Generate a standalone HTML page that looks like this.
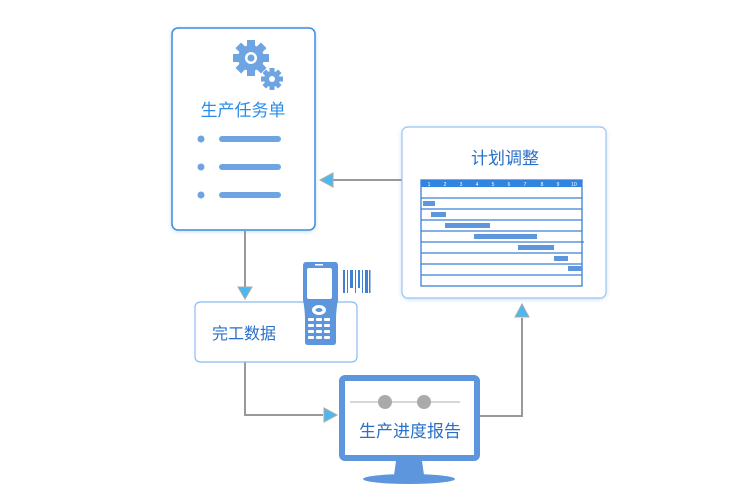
<!DOCTYPE html>
<html><head><meta charset="utf-8"><style>
html,body{margin:0;padding:0;background:#fff;}
svg{display:block;}
text{font-family:"Liberation Sans","Noto Sans CJK SC",sans-serif;}
</style></head><body>
<svg width="740" height="500" viewBox="0 0 740 500" xmlns="http://www.w3.org/2000/svg">
<defs>
<filter id="sh" x="-10%" y="-10%" width="120%" height="120%"><feDropShadow dx="0" dy="1" stdDeviation="2" flood-color="#6aa0e0" flood-opacity="0.35"/></filter>
</defs>
<!-- connectors -->
<g stroke="#999" stroke-width="2" fill="none">
<line x1="408" y1="180" x2="332" y2="180"/>
<line x1="245" y1="231" x2="245" y2="289"/>
<polyline points="245,362 245,415 323,415"/>
<polyline points="471,416 522,416 522,318"/>
</g>
<g fill="#4cb8f0" stroke="#aaa" stroke-width="1">
<polygon points="320,180 333,173 333,187"/>
<polygon points="245,299 238,287 252,287"/>
<polygon points="337,415 324,408 324,422"/>
<polygon points="522,304 515,317 529,317"/>
</g>
<!-- task card -->
<rect x="172" y="28" width="143" height="202" rx="6" fill="#fff" stroke="#3b8be0" stroke-width="1.5" filter="url(#sh)"/>
<g fill="#6fa4e3">
<g transform="translate(251,58)">
<circle r="13"/>
<g><rect x="-4" y="-18" width="8" height="36"/><rect x="-4" y="-18" width="8" height="36" transform="rotate(45)"/><rect x="-4" y="-18" width="8" height="36" transform="rotate(90)"/><rect x="-4" y="-18" width="8" height="36" transform="rotate(135)"/></g>
<circle r="6" fill="#fff"/><circle r="3.5"/>
</g>
<g transform="translate(272,79)">
<circle r="8"/>
<g><rect x="-2.5" y="-11" width="5" height="22"/><rect x="-2.5" y="-11" width="5" height="22" transform="rotate(45)"/><rect x="-2.5" y="-11" width="5" height="22" transform="rotate(90)"/><rect x="-2.5" y="-11" width="5" height="22" transform="rotate(135)"/></g>
<circle r="3" fill="#fff"/>
</g>
<circle cx="201" cy="139" r="3.5"/><rect x="219" y="136" width="62" height="6" rx="3"/>
<circle cx="201" cy="167" r="3.5"/><rect x="219" y="164" width="62" height="6" rx="3"/>
<circle cx="201" cy="195" r="3.5"/><rect x="219" y="192" width="62" height="6" rx="3"/>
</g>
<text x="243" y="116" font-size="17" fill="#2a8ee8" text-anchor="middle">生产任务单</text>
<!-- plan box -->
<rect x="402" y="127" width="204" height="171" rx="6" fill="#fff" stroke="#9cc4f2" stroke-width="1.2" filter="url(#sh)"/>
<text x="505" y="164" font-size="17" fill="#2a6fc9" text-anchor="middle">计划调整</text>
<rect x="421" y="180" width="161" height="7" fill="#2f86e0"/>
<g font-size="5" fill="#fff" text-anchor="middle">
<text x="429" y="186">1</text><text x="445" y="186">2</text><text x="461" y="186">3</text><text x="477" y="186">4</text><text x="493" y="186">5</text><text x="509" y="186">6</text><text x="525" y="186">7</text><text x="542" y="186">8</text><text x="558" y="186">9</text><text x="574" y="186">10</text>
</g>
<g stroke="#3b80d6" stroke-width="1.3" fill="none">
<rect x="421" y="180" width="161" height="106"/>
<line x1="421" y1="198" x2="582" y2="198"/><line x1="421" y1="209" x2="582" y2="209"/><line x1="421" y1="220" x2="582" y2="220"/><line x1="421" y1="231" x2="582" y2="231"/><line x1="421" y1="242" x2="584" y2="242"/><line x1="421" y1="253" x2="582" y2="253"/><line x1="421" y1="264" x2="582" y2="264"/><line x1="421" y1="275" x2="582" y2="275"/>
</g>
<g fill="#5d96dc">
<rect x="423" y="201" width="12" height="5"/><rect x="431" y="212" width="15" height="5"/><rect x="445" y="223" width="45" height="5"/><rect x="474" y="234" width="63" height="5"/><rect x="518" y="245" width="36" height="5"/><rect x="554" y="256" width="14" height="5"/><rect x="568" y="266" width="14" height="5"/>
</g>
<!-- completion box -->
<rect x="195" y="302" width="162" height="60" rx="5" fill="#fff" stroke="#8bbcf0" stroke-width="1.2"/>
<text x="212" y="339" font-size="16" fill="#2a6fc9">完工数据</text>
<!-- scanner -->
<g fill="#5d96dc">
<path d="M303,262 h32 q3,0 3,4 v34 q-2,10 -2,20 v22 q0,3 -3,3 h-25 q-3,0 -3,-3 v-22 q0,-10 -2,-20 v-34 q0,-4 3,-4z"/>
</g>
<rect x="307" y="268" width="25" height="31" rx="2" fill="#fff"/>
<rect x="315" y="264" width="8" height="1.5" fill="#fff"/>
<ellipse cx="319" cy="310" rx="7" ry="5" fill="#fff"/><ellipse cx="319" cy="310" rx="3.5" ry="2" fill="#5d96dc"/>
<g fill="#fff">
<rect x="308" y="318" width="6" height="3" rx="1"/><rect x="316" y="318" width="6" height="3" rx="1"/><rect x="324" y="318" width="6" height="3" rx="1"/>
<rect x="308" y="324" width="6" height="3" rx="1"/><rect x="316" y="324" width="6" height="3" rx="1"/><rect x="324" y="324" width="6" height="3" rx="1"/>
<rect x="308" y="330" width="6" height="3" rx="1"/><rect x="316" y="330" width="6" height="3" rx="1"/><rect x="324" y="330" width="6" height="3" rx="1"/>
<rect x="308" y="336" width="6" height="3" rx="1"/><rect x="316" y="336" width="6" height="3" rx="1"/><rect x="324" y="336" width="6" height="3" rx="1"/>
</g>
<g fill="#3f7fd6">
<rect x="343" y="270" width="2" height="23"/><rect x="347" y="270" width="1" height="23"/><rect x="350" y="270" width="3" height="18"/><rect x="355" y="270" width="1" height="23"/><rect x="358" y="270" width="2" height="18"/><rect x="362" y="270" width="1" height="23"/><rect x="365" y="270" width="3" height="23"/><rect x="369" y="270" width="1.5" height="23"/>
</g>
<!-- monitor -->
<rect x="342" y="378" width="135" height="80" rx="3" fill="#fff" stroke="#5d96dc" stroke-width="6"/>
<line x1="350" y1="402" x2="460" y2="402" stroke="#c8c8c8" stroke-width="1.5"/>
<circle cx="385" cy="402" r="7" fill="#aaa"/><circle cx="424" cy="402" r="7" fill="#aaa"/>
<text x="410" y="437" font-size="17" fill="#2a6fc9" text-anchor="middle">生产进度报告</text>
<path d="M396,461 h26 l2,14 h-30z" fill="#5d96dc"/>
<ellipse cx="409" cy="479" rx="46" ry="5" fill="#5d96dc"/>
</svg>
</body></html>
